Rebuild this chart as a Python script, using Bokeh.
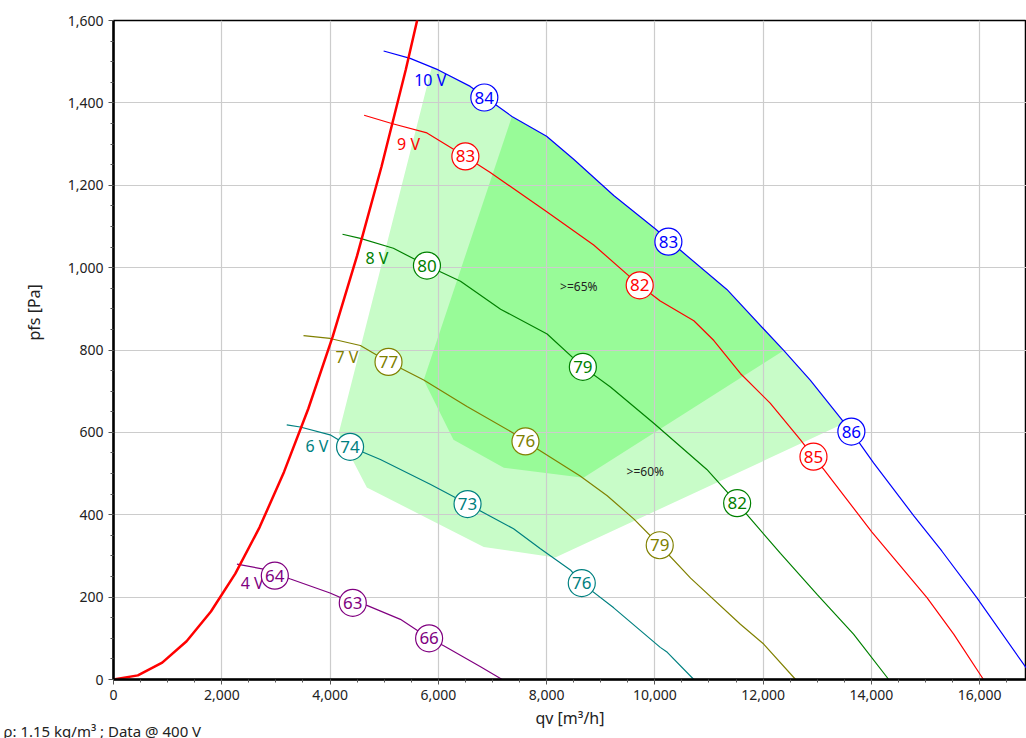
import math
from bokeh.plotting import figure
from bokeh.models import Label, NumeralTickFormatter, FixedTicker, Range1d, Title
from bokeh.core.properties import value
from bokeh.embed import file_html
from bokeh.resources import INLINE

FONT = "Noto Sans"

# ---------------- data ----------------
x_ticks = [0, 2000, 4000, 6000, 8000, 10000, 12000, 14000, 16000]
y_ticks = [0, 200, 400, 600, 800, 1000, 1200, 1400, 1600]

# system resistance curve
sys_q = [0, 450, 900, 1350, 1800, 2250, 2700, 3150, 3600, 4050, 4500, 4950, 5400, 5850]
sys_p = [0, 10, 41, 93, 165, 257, 370, 504, 658, 833, 1029, 1245, 1481, 1738]

# fan curves
q10 = [4990, 5480, 6000, 6590, 7360, 8000, 8500, 9240, 10000, 10500, 11330, 12010, 12380, 12870, 13630, 14040, 14780, 15300, 15950, 16860]
p10 = [1526, 1508, 1480, 1440, 1367, 1319, 1263, 1175, 1095, 1039, 947, 851, 799, 727, 602, 526, 398, 312, 198, 28]

q9 = [4630, 5140, 5790, 6500, 6960, 8010, 8870, 9720, 10100, 10720, 11090, 11580, 12130, 12690, 12930, 13120, 14010, 15030, 15520, 16070]
p9 = [1370, 1350, 1327, 1270, 1231, 1135, 1055, 957, 919, 871, 823, 743, 671, 582, 541, 510, 358, 198, 110, 0]

q8 = [4230, 4560, 5170, 5790, 6410, 7150, 8010, 8670, 9180, 9980, 10960, 11520, 12320, 13000, 13670, 14320]
p8 = [1081, 1071, 1047, 1005, 967, 899, 839, 759, 710, 622, 510, 428, 306, 206, 110, 0]

q7 = [3510, 4000, 4560, 5080, 5730, 6530, 7390, 7610, 8620, 9120, 9610, 10090, 10660, 11580, 12010, 12600]
p7 = [835, 828, 811, 771, 727, 663, 598, 578, 494, 446, 390, 326, 246, 134, 86, 0]

q6 = [3200, 3450, 4000, 4370, 4930, 5850, 6540, 7390, 7880, 8440, 8650, 9240, 10100, 10230, 10720]
p6 = [618, 613, 594, 565, 534, 474, 426, 366, 318, 266, 234, 174, 78, 66, 0]

q4 = [2280, 2770, 3270, 4000, 4420, 4680, 5300, 5830, 6100, 6780, 7180]
p4 = [280, 268, 244, 210, 186, 180, 146, 100, 82, 31, 0]

curve_names = ["10 V", "9 V", "8 V", "7 V", "6 V", "4 V"]
curve_colors = ["#0000ff", "#ff0000", "#008000", "#808000", "#008080", "#800080"]
curve_q = [q10, q9, q8, q7, q6, q4]
curve_p = [p10, p9, p8, p7, p6, p4]

# voltage label positions
volt_q = [5850, 5450, 4866, 4312, 3757, 2562]
volt_p = [1456, 1300, 1023, 783, 566, 234]

# markers on curves
mark_q = [[6850, 10250, 13630], [6500, 9720, 12930], [5790, 8670, 11520],
          [5080, 7610, 10090], [4370, 6540, 8650], [2980, 4420, 5830]]
mark_p = [[1413, 1063, 602], [1270, 957, 541], [1005, 759, 428],
          [771, 578, 326], [565, 426, 234], [252, 186, 100]]
mark_t = [["84", "83", "86"], ["83", "82", "85"], ["80", "79", "82"],
          ["77", "76", "79"], ["74", "73", "76"], ["64", "63", "66"]]

# efficiency zones
zone60_q = [5880, 4160, 4680, 6840, 8160, 13500, 12870, 12380, 12010, 11330, 10500, 10000, 9240, 8500, 8000, 7360, 6590, 6000]
zone60_p = [1487, 598, 466, 322, 296, 622, 727, 799, 851, 947, 1039, 1095, 1175, 1263, 1319, 1367, 1440, 1480]
zone65_q = [7360, 5730, 6280, 7210, 8680, 12380, 12010, 11330, 10500, 10000, 9240, 8500, 8000]
zone65_p = [1367, 727, 582, 514, 490, 799, 851, 947, 1039, 1095, 1175, 1263, 1319]
zone_text = [">=65%", ">=60%"]
zone_text_q = [8595, 9824]
zone_text_p = [953, 504]

# ---------------- figure ----------------
W, H = 1026, 738
p = figure(width=W, height=H, output_backend="svg", toolbar_location=None,
           x_range=Range1d(0, 16865), y_range=Range1d(0, 1600),
           min_border_left=113, min_border_right=0, min_border_top=13, min_border_bottom=59)
p.background_fill_color = "white"
p.outline_line_color = "black"
p.outline_line_width = 1.5

p.xaxis.ticker = FixedTicker(ticks=x_ticks, minor_ticks=list(range(0, 17000, 500)))
p.yaxis.ticker = FixedTicker(ticks=y_ticks, minor_ticks=list(range(0, 1650, 50)))
for ax in (p.xaxis[0], p.yaxis[0]):
    ax.formatter = NumeralTickFormatter(format="0,0")
    ax.axis_line_width = 2.5
    ax.axis_line_color = "black"
    ax.major_tick_in = 0
    ax.major_tick_out = 5
    ax.minor_tick_in = 0
    ax.minor_tick_out = 3
    ax.major_tick_line_color = "#555555"
    ax.minor_tick_line_color = "#555555"
    ax.major_label_text_font = FONT
    ax.major_label_text_font_size = "14px"
    ax.major_label_text_color = "#222222"
p.xaxis.axis_label = "qv [m³/h]"
p.xaxis.axis_label_text_font = FONT
p.xaxis.axis_label_text_font_size = "16px"
p.xaxis.axis_label_text_font_style = "normal"
p.xaxis.axis_label_text_color = "#222222"
p.xaxis.axis_label_standoff = 4
p.xaxis.major_label_standoff = 5

p.xgrid.ticker = FixedTicker(ticks=x_ticks)
p.ygrid.ticker = FixedTicker(ticks=y_ticks)
p.grid.grid_line_color = "#cccccc"
p.grid.grid_line_width = 1.2

# zones (drawn below grid)
p.patch(zone60_q, zone60_p, fill_color="#c8fcc8", line_color=None, level="image")
p.patch(zone65_q, zone65_p, fill_color="#98fb98", line_color=None, level="image")
p.text(zone_text_q, zone_text_p, text=zone_text, text_font=value(FONT), text_font_size="12px",
       text_color="#222222", text_align="center", text_baseline="middle")

# fan curves
for q, pp, c in zip(curve_q, curve_p, curve_colors):
    p.line(q, pp, line_color=c, line_width=1.2)

# system curve
p.line(sys_q, sys_p, line_color="#ff0000", line_width=2.5)

# voltage labels
for i in range(len(curve_names)):
    p.text([volt_q[i]], [volt_p[i]], text=[curve_names[i]], text_font=value(FONT),
           text_font_size="16px", text_color=curve_colors[i], text_align="center",
           text_baseline="middle")

# markers
for i in range(len(curve_names)):
    p.scatter(mark_q[i], mark_p[i], size=27, fill_color="white", line_color=curve_colors[i],
              line_width=1.2)
    p.text(mark_q[i], mark_p[i], text=mark_t[i], text_font=value(FONT), text_font_size="17px",
           text_color=curve_colors[i], text_align="center", text_baseline="middle")

# y axis label as a left title
p.add_layout(Title(text="pfs [Pa]", align="left", offset=339, standoff=40, text_font=FONT,
                   text_font_size="16px", text_font_style="normal", text_color="#222222"), "left")
# footnote, held in the top panel and drawn at the bottom-left of the canvas
p.add_layout(Label(x=-110, y=-710, x_units="screen", y_units="screen",
                   text="ρ: 1.15 kg/m³ ; Data @ 400 V", text_font=FONT, text_font_size="15px",
                   text_color="#222222", text_align="left", text_baseline="middle"), "above")

open("out.html", "w").write(file_html(p, INLINE))
